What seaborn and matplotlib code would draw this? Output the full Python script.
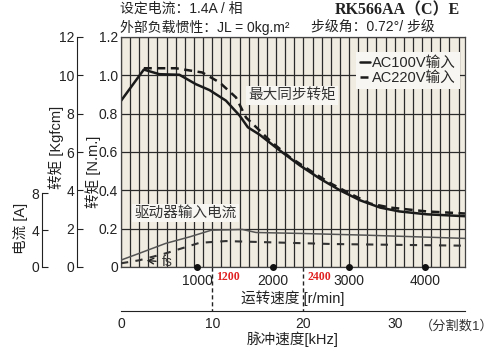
import numpy as np
import pandas as pd
import matplotlib
matplotlib.use("Agg")
import matplotlib.pyplot as plt
import seaborn as sns

# 数据 (脉冲速度 kHz)
khz_100v = [0, 2.5, 4.2, 6.4, 8.2, 9.7, 11.5, 13.0, 13.9, 15.2, 17.4, 19.6, 21.8, 24.0, 26.2, 28.4, 30.5, 33.5, 37.7]
torque_100v = [0.867, 1.03, 1.006, 1.003, 0.954, 0.923, 0.868, 0.79, 0.729, 0.69, 0.608, 0.53, 0.461, 0.40, 0.348, 0.31, 0.29, 0.275, 0.265]
khz_220v = [2.5, 6.0, 8.9, 10.8, 12.6, 13.7, 15.2, 16.3, 18.5, 20.7, 22.9, 25.1, 27.3, 29.5, 33.5, 37.7]
torque_220v = [1.037, 1.037, 1.015, 0.963, 0.885, 0.78, 0.712, 0.66, 0.573, 0.504, 0.438, 0.383, 0.331, 0.31, 0.29, 0.279]

khz_cur_100v = [0, 2, 4.9, 7.5, 9.9, 13.3, 14.8, 19.6, 26.9, 37.7]
current_100v = [0.75, 1.48, 2.56, 3.26, 3.99, 4.07, 3.74, 3.64, 3.45, 3.10]
khz_cur_220v = [0, 2, 4.9, 8.6, 11.5, 14, 23.2, 37.7]
current_220v = [0.40, 0.73, 1.48, 2.62, 2.81, 2.74, 2.49, 2.31]

rpm_ticks = [1000, 2000, 3000, 4000]
rpm_marks = [1200, 2400]
pulse_ticks = [0, 10, 20, 30]
nm_ticks = [0, 0.2, 0.4, 0.6, 0.8, 1.0, 1.2]
nm_labels = ["0", "0.2", "0.4", "0.6", "0.8", "1.0", "1.2"]
kgf_ticks = [0, 2, 4, 6, 8, 10, 12]
amp_ticks = [0, 4, 8]

sns.set_style("white")
plt.rcParams['font.family'] = ['Liberation Sans', 'Noto Sans CJK SC', 'DejaVu Sans']
plt.rcParams['axes.unicode_minus'] = False

W, H = 498, 351
X_MAX = 37.7
AMP_TOP = 1.2 * 8 / 0.385   # 8A 对应 0.385 N.m 高度
ink = '#222222'
fs_tick = 10

fig = plt.figure(figsize=(W / 100, H / 100), dpi=100)
ax = fig.add_axes([121 / W, 1 - 267 / H, 344 / W, 230 / H])
ax.set_facecolor('#f1ece1')
ax.set_xlim(0, X_MAX)
ax.set_ylim(0, 1.2)
ax.set_xticks(np.arange(0, X_MAX, 1))
ax.set_xticklabels([])
ax.set_yticks(nm_ticks)
ax.set_yticklabels(nm_labels)
ax.tick_params(length=0, labelsize=fs_tick, colors=ink, pad=2)
ax.grid(True, color='#2a2a2a', lw=0.9)
for s in ax.spines.values():
    s.set_color('#444444')
    s.set_linewidth(0.9)

# 最大同步转矩
sns.lineplot(x=khz_100v, y=torque_100v, ax=ax, color='#1a1a1a', lw=1.8, label='AC100V输入')
sns.lineplot(x=khz_220v, y=torque_220v, ax=ax, color='#1a1a1a', lw=1.8,
             linestyle=(0, (3.2, 2.2)), label='AC220V输入')
leg = ax.legend(loc='upper right', bbox_to_anchor=(0.985, 0.935), frameon=True, fancybox=False,
                handlelength=0.7, handletextpad=0.1, borderpad=0.3, labelspacing=0.05,
                fontsize=10.5, borderaxespad=0)
leg.get_frame().set_facecolor('#f8f6f2')
leg.get_frame().set_edgecolor('none')
leg.get_frame().set_alpha(1)

# 电流 (A) 轴
ax_amp = ax.twinx()
ax_amp.set_ylim(0, AMP_TOP)
sns.lineplot(x=khz_cur_100v, y=current_100v, ax=ax_amp, color='#555555', lw=1.1)
sns.lineplot(x=khz_cur_220v, y=current_220v, ax=ax_amp, color='#333333', lw=1.5,
             linestyle=(0, (3.5, 3.5)))
ax_amp.yaxis.set_ticks_position('left')
ax_amp.yaxis.set_label_position('left')
for k in ['top', 'right', 'bottom']:
    ax_amp.spines[k].set_visible(False)
ax_amp.spines['left'].set_position(('axes', (42 - 121) / 344))
ax_amp.spines['left'].set_bounds(0, 8)
ax_amp.spines['left'].set_color(ink)
ax_amp.set_yticks(amp_ticks)
ax_amp.tick_params(axis='y', direction='in', length=4, labelsize=fs_tick, colors=ink, pad=2)

# Kgfcm 轴
ax_kg = ax.twinx()
ax_kg.set_ylim(0, 12)
ax_kg.yaxis.set_ticks_position('left')
for k in ['top', 'right', 'bottom']:
    ax_kg.spines[k].set_visible(False)
ax_kg.spines['left'].set_position(('axes', (77 - 121) / 344))
ax_kg.spines['left'].set_color(ink)
ax_kg.set_yticks(kgf_ticks)
ax_kg.tick_params(axis='y', direction='in', length=4, labelsize=fs_tick, colors=ink, pad=2)

# 运转速度 r/min
sec = ax.secondary_xaxis('bottom', functions=(lambda k: k * 120, lambda r: r / 120))
sec.set_xticks(rpm_ticks)
sec.tick_params(length=0, labelsize=fs_tick, colors=ink, pad=5)
sec.spines['bottom'].set_visible(False)
sec.set_xlabel('运转速度 [r/min]', fontsize=10.5, color=ink, labelpad=2)
ax.plot([r / 120 for r in rpm_ticks], [0] * len(rpm_ticks), 'o', color='#111111', ms=4,
        clip_on=False, zorder=5)
for r in rpm_marks:
    ax.plot([r / 120, r / 120], [0, -44 / 230], transform=ax.get_xaxis_transform(),
            color=ink, lw=1, ls=(0, (3, 2)), clip_on=False)
    ax.text(r / 120 + 0.4, -10 / 230, str(r), transform=ax.get_xaxis_transform(),
            color='#e02020', fontsize=8.5, fontweight='bold', family='Liberation Serif',
            ha='left', va='center')

# 脉冲速度 kHz
ax_p = fig.add_axes([121 / W, 1 - 311 / H, 344 / W, 0.0001])
ax_p.patch.set_visible(False)
ax_p.set_xlim(0, X_MAX)
for k in ['top', 'right', 'left']:
    ax_p.spines[k].set_visible(False)
ax_p.spines['bottom'].set_color(ink)
ax_p.set_yticks([])
ax_p.set_xticks(pulse_ticks)
ax_p.set_xticks([5, 15, 25, 35], minor=True)
ax_p.tick_params(axis='x', which='both', direction='in', length=4, labelsize=fs_tick, colors=ink, pad=4)
ax_p.set_xlabel('脉冲速度[kHz]', fontsize=10.5, color=ink, labelpad=1)
fig.text(494 / W, 1 - 326 / H, '（分割数1）', fontsize=9.5, color='#333333', va='center', ha='right')

# 轴标题
fig.text(20 / W, 1 - 228 / H, '电流 [A]', rotation=90, fontsize=10.5, color=ink, ha='center', va='center')
fig.text(56 / W, 1 - 147 / H, '转矩 [Kgfcm]', rotation=90, fontsize=10.5, color=ink, ha='center', va='center')
fig.text(93 / W, 1 - 172 / H, '转矩 [N.m.]', rotation=90, fontsize=10.5, color=ink, ha='center', va='center')

# 曲线标注
box = dict(boxstyle='square,pad=0.15', fc='#f8f6f2', ec='none')
ax.text(13.9, 0.895, '最大同步转矩', fontsize=10.5, color='#333333', va='center', bbox=box)
ax.text(1.5, 0.283, '驱动器输入电流', fontsize=10.5, color='#333333', va='center', bbox=box)
ax.annotate('fs', xy=(2.5, 0.035), xytext=(4.5, 0.025), fontsize=10, color='#333333',
            va='center', arrowprops=dict(arrowstyle='->', color='#222222', lw=1))

# 标题信息
fig.text(120 / W, 1 - 9 / H, '设定电流：1.4A / 相', fontsize=10, color=ink, va='center')
fig.text(335 / W, 1 - 10 / H, 'RK566AA（C）E', fontsize=11.5, fontweight='bold', color=ink, va='center',
         family=['Liberation Serif', 'Noto Sans CJK SC'])
fig.text(120 / W, 1 - 27 / H, '外部负载惯性：JL = 0kg.m²', fontsize=10, color=ink, va='center')
fig.text(311 / W, 1 - 27 / H, '步级角：0.72°/ 步级', fontsize=10, color=ink, va='center')

fig.savefig('out.png', dpi=100)
